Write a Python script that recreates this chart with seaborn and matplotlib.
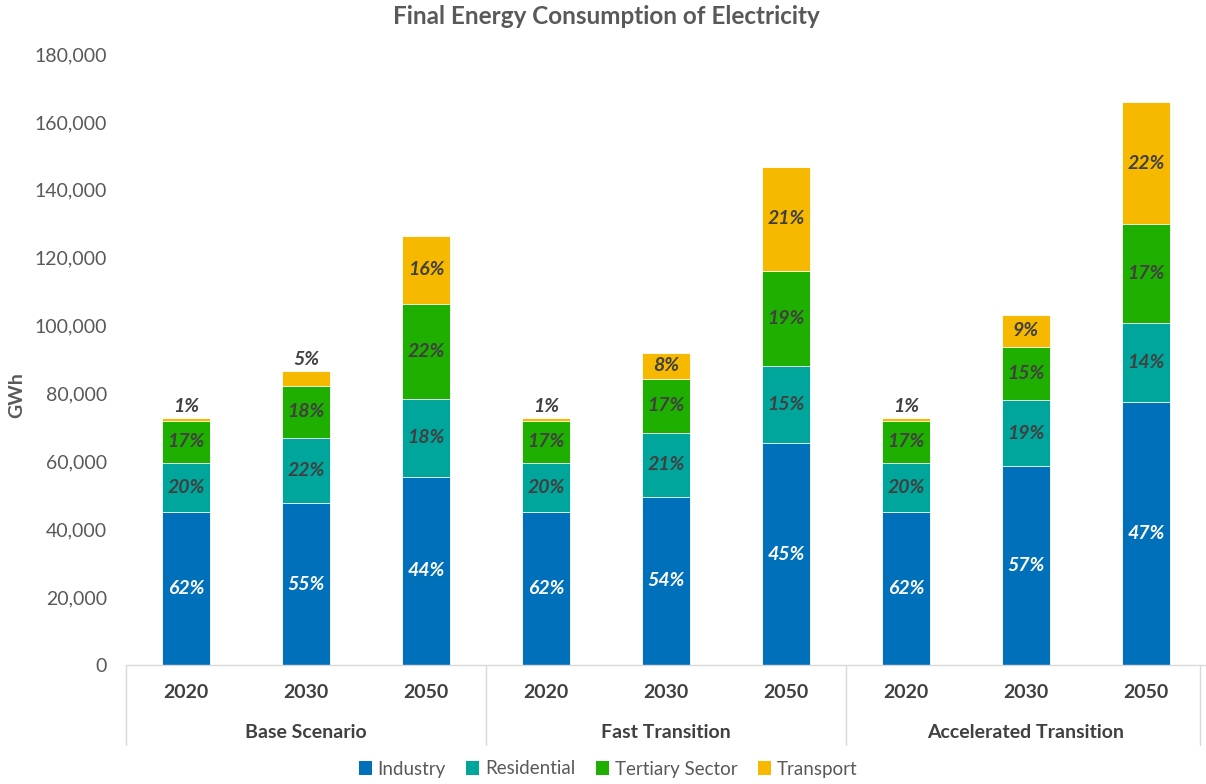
import numpy as np
import pandas as pd
import matplotlib
matplotlib.use("Agg")
import matplotlib.pyplot as plt
import seaborn as sns
from matplotlib.patches import Patch
from matplotlib.ticker import FuncFormatter

# ---------------- data ----------------
scenarios = ["Base Scenario", "Fast Transition", "Accelerated Transition"]
years = ["2020", "2030", "2050"]
sectors = ["Industry", "Residential", "Tertiary Sector", "Transport"]
industry = [45100, 47600, 55400, 45100, 49500, 65400, 45100, 58600, 77600]
residential = [14400, 19400, 23000, 14400, 18900, 22700, 14400, 19400, 23200]
tertiary = [12400, 15300, 28000, 12400, 15900, 28000, 12400, 15700, 29000]
transport = [900, 4300, 20000, 900, 7600, 30600, 900, 9400, 36100]
y_ticks = [0, 20000, 40000, 60000, 80000, 100000, 120000, 140000, 160000, 180000]
title = "Final Energy Consumption of Electricity"
y_label = "GWh"

colors = ["#0070BA", "#00A69C", "#1FAF00", "#F6B900"]
label_colors = ["white", "#404040", "#404040", "#404040"]
text_gray = "#595959"

# ---------------- style ----------------
sns.set_theme(style="white")
plt.rcParams["font.family"] = ["Lato", "DejaVu Sans"]

keys = [f"{s}|{y}" for s in scenarios for y in years]
series = [industry, residential, tertiary, transport]
df = pd.DataFrame({"key": keys})
for name, vals in zip(sectors, series):
    df[name] = vals
cum = np.cumsum(np.array(series, dtype=float), axis=0)
for i, name in enumerate(sectors):
    df[name + "_cum"] = cum[i]
totals = cum[-1]

W, H = 1206, 784
fig = plt.figure(figsize=(W / 100, H / 100), dpi=100)
ax = fig.add_axes([126 / W, 119 / H, 1080 / W, 611 / H])

# stacked bars: draw cumulative totals from top layer down
for i in reversed(range(len(sectors))):
    sns.barplot(data=df, x="key", y=sectors[i] + "_cum", order=keys,
                color=colors[i], saturation=1, width=0.4, errorbar=None,
                edgecolor="white", linewidth=0.6, ax=ax)

# percentage labels
for j in range(len(keys)):
    bottom = 0.0
    for i, vals in enumerate(series):
        v = vals[j]
        pct = f"{round(v / totals[j] * 100):.0f}%"
        if i == 3 and v < 6000:
            ax.annotate(pct, (j, bottom + v), xytext=(0, 2), textcoords="offset points",
                        ha="center", va="bottom", fontsize=14, fontweight="bold",
                        fontstyle="italic", color=label_colors[i])
        else:
            ax.text(j, bottom + v / 2, pct, ha="center", va="center", fontsize=14,
                    fontweight="bold", fontstyle="italic", color=label_colors[i])
        bottom += v

ax.set_xlim(-0.5, len(keys) - 0.5)
ax.set_ylim(0, 180000)
ax.set_yticks(y_ticks)
ax.yaxis.set_major_formatter(FuncFormatter(lambda v, p: f"{int(v):,}"))
ax.tick_params(axis="y", length=0, pad=13.5, labelsize=14, labelcolor=text_gray)
ax.set_xticks(range(len(keys)))
ax.set_xticklabels([k.split("|")[1] for k in keys])
ax.tick_params(axis="x", length=0, pad=14, labelsize=14, labelcolor="#404040")
for t in ax.get_xticklabels():
    t.set_fontweight("bold")
ax.set_xlabel("")
ax.set_ylabel("")
for s in ["left", "right", "top"]:
    ax.spines[s].set_visible(False)
ax.spines["bottom"].set_color("#D9D9D9")
ax.spines["bottom"].set_linewidth(1)
ax.grid(False)

# group labels and separators
trans = ax.get_xaxis_transform()
for g, s in enumerate(scenarios):
    ax.text(g * 3 + 1, -67 / 611, s, transform=trans, ha="center", va="center",
            fontsize=14, fontweight="bold", color="#404040")
for xb in [-0.5, 2.5, 5.5, 8.45]:
    ax.plot([xb, xb], [0, -80 / 611], transform=trans, color="#D9D9D9",
            linewidth=1, clip_on=False)

fig.text(606 / W, 1 - 17 / H, title, ha="center", va="center", fontsize=17.5,
         fontweight="bold", color=text_gray)
fig.text(17 / W, 1 - 395 / H, y_label, ha="center", va="center", rotation=90,
         fontsize=14, fontweight="bold", color=text_gray)

handles = [Patch(facecolor=c, edgecolor="none", label=n) for c, n in zip(colors, sectors)]
fig.legend(handles=handles, loc="center", bbox_to_anchor=(608 / W, 15 / H), ncol=4,
           frameon=False, handlelength=0.7, handleheight=0.7, handletextpad=0.3,
           columnspacing=1.1, fontsize=13.5, labelcolor=text_gray)

fig.savefig("out.png", dpi=100, facecolor="white")
